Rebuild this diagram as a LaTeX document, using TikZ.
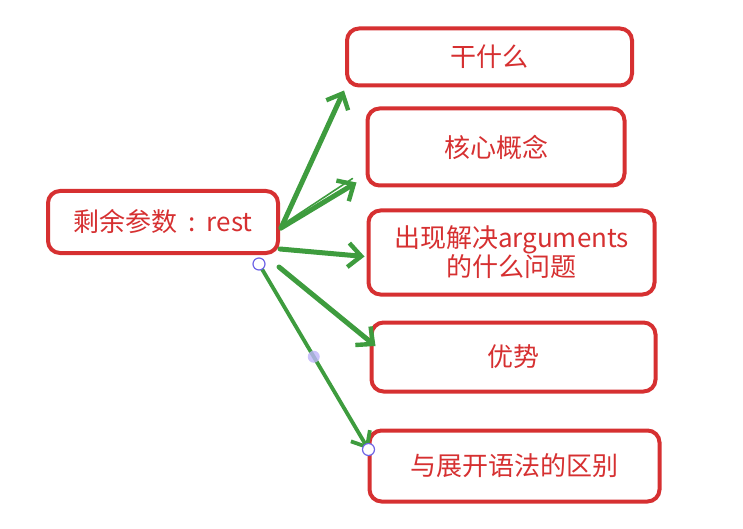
\documentclass[tikz,border=0pt]{standalone}
\usepackage{fontspec}
\setmainfont{Noto Sans CJK SC}
\usetikzlibrary{arrows.meta,calc}
\definecolor{boxred}{RGB}{214,48,49}
\definecolor{linkgreen}{RGB}{62,156,62}
\definecolor{handleblue}{RGB}{110,100,230}
\definecolor{handlefill}{RGB}{190,180,250}
\tikzset{
  sketchbox/.style={draw=boxred, line width=4pt, rounded corners=12pt,
    fill=white, text=boxred, align=center, inner sep=0pt,
    font=\fontsize{26}{31}\selectfont},
  link/.style={draw=linkgreen, line width=5pt, line cap=round,
    -{Straight Barb[length=13pt,width=24pt,line width=4.4pt]}},
  handle/.style={circle, draw=handleblue, fill=white, line width=1.2pt,
    inner sep=0pt, minimum size=12pt},
}
\begin{document}
\begin{tikzpicture}[x=1pt,y=-1pt]
\useasboundingbox (0,0) rectangle (743,529);

% topic boxes
\node[sketchbox, minimum width=230pt, minimum height=62pt] (root) at (163,222) {剩余参数\hspace{11pt}:\hspace{11pt}rest};
\node[sketchbox, minimum width=285pt, minimum height=57pt] (a) at (489.5,57) {干什么};
\node[sketchbox, minimum width=257pt, minimum height=77pt] (b) at (496,147) {核心概念};
\node[sketchbox, minimum width=286pt, minimum height=84pt] (c) at (511.5,252.5) {出现解决arguments\\[-2pt]的什么问题};
\node[sketchbox, minimum width=284pt, minimum height=69pt] (d) at (513.5,357) {优势};
\node[sketchbox, minimum width=290pt, minimum height=71pt] (e) at (514.5,466) {与展开语法的区别};

% second, thinner pass for the hand-drawn look
\foreach \n in {root,a,b,c,d,e}{
  \draw[boxred, line width=1.5pt, rounded corners=12pt]
    ($(\n.south west)+(1.5,-2.5)$) rectangle ($(\n.north east)+(-1.5,2)$);
}

% connector endpoints
\coordinate (r1) at ($(root.east)+(1,6)$);
\coordinate (r2) at ($(root.east)+(0,27)$);
\coordinate (r3) at ($(root.east)+(-1,45)$);
\coordinate (r4) at ($(root.south east)+(-21,9)$);
\coordinate (ta) at ($(a.south west)+(-1,3)$);
\coordinate (tb) at ($(b.south west)+(-9,-5)$);
\coordinate (tc) at ($(c.west)+(-2,4)$);
\coordinate (td) at ($(d.west)+(6,-11)$);
\coordinate (te) at ($(e.north west)+(1,21)$);

% connectors
\draw[link] (r1) -- (ta);
\draw[link] (r1) -- (tb);
\draw[linkgreen, line width=1.6pt, line cap=round] ($(r1)+(4,-5)$) -- ($(tb)+(-4,-4)$);
\draw[link] (r2) -- (tc);
\draw[link] (r3) -- (td);
\draw[linkgreen, line width=3.8pt, line cap=round,
  -{Straight Barb[length=13pt,width=22pt,line width=3.8pt]}] (r4) -- (te);

% selection handles on the last connector
\node[handle] (h1) at (r4) {};
\node[handle] (h2) at (te) {};
\node[circle, fill=handlefill, opacity=0.8, inner sep=0pt, minimum size=12pt] (hm) at ($(r4)!0.5!(te)$) {};
\end{tikzpicture}
\end{document}
